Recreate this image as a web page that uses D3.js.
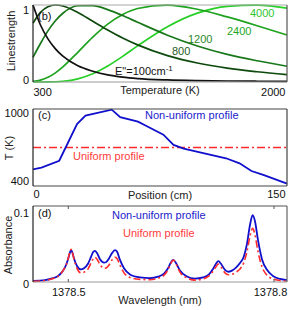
<!DOCTYPE html>
<html>
<head>
<meta charset="utf-8">
<script src="https://cdn.jsdelivr.net/npm/d3@7"></script>
<style>
body { margin: 0; background: #fff; }
svg text { font-family: "Liberation Sans", Arial, sans-serif; font-size: 11px; }
</style>
</head>
<body>
<svg id="fig" width="300" height="310"></svg>
<script>
// ---- panel (b): normalised linestrength vs temperature
var temps = [300, 350, 400, 450, 500, 600, 700, 800, 900, 1000, 1200, 1400, 1600, 1800, 2000];
var s100  = [1, 0.74, 0.56, 0.43, 0.335, 0.21, 0.14, 0.092, 0.063, 0.045, 0.027, 0.018, 0.013, 0.01, 0.008];
var s800  = [0.764, 0.904, 0.978, 1.0, 0.987, 0.903, 0.789, 0.675, 0.571, 0.482, 0.343, 0.247, 0.18, 0.133, 0.095];
var s1200 = [0.321, 0.5, 0.664, 0.796, 0.893, 0.99, 0.992, 0.94, 0.863, 0.776, 0.608, 0.468, 0.359, 0.276, 0.205];
var s2400 = [0.007, 0.025, 0.061, 0.119, 0.196, 0.386, 0.583, 0.752, 0.877, 0.955, 0.999, 0.945, 0.845, 0.731, 0.61];
var s4000 = [0, 0, 0.001, 0.0035, 0.0096, 0.041, 0.107, 0.208, 0.333, 0.469, 0.719, 0.895, 0.983, 0.998, 0.96];
var curveNames = ["4000", "2400", "1200", "800", "100"];
var tempTicks = [300, 2000];
var strengthTicks = [0, 1];

// ---- panel (c): temperature along the path
var position = [0, 5, 15.5, 26, 31, 46.5, 51.5, 62, 67, 77, 83, 89, 114, 122, 129, 136, 144, 150];
var tempProfile = [530, 543, 597, 883, 948, 995, 937, 902, 868, 800, 720, 692, 616, 577, 517, 486, 447, 418];
var uniformT = 700;
var posTicks = [0, 150];
var tTicks = [400, 1000];

// ---- panel (d): absorbance spectra
var wavelength = [1378.4485, 1378.4660, 1378.4777, 1378.4850, 1378.4908, 1378.4966, 1378.4996, 1378.5025,
  1378.5039, 1378.5054, 1378.5083, 1378.5127, 1378.5185, 1378.5229, 1378.5287, 1378.5331, 1378.5360,
  1378.5389, 1378.5419, 1378.5462, 1378.5521, 1378.5550, 1378.5594, 1378.5637, 1378.5681, 1378.5710,
  1378.5754, 1378.5812, 1378.5900, 1378.6046, 1378.6192, 1378.6309, 1378.6396, 1378.6454, 1378.6498,
  1378.6531, 1378.6571, 1378.6629, 1378.6717, 1378.6848, 1378.6964, 1378.7052, 1378.7110, 1378.7154,
  1378.7188, 1378.7227, 1378.7285, 1378.7333, 1378.7387, 1378.7446, 1378.7504, 1378.7562, 1378.7606,
  1378.7650, 1378.7689, 1378.7723, 1378.7767, 1378.7825, 1378.7898, 1378.7985, 1378.8087, 1378.8189];
var absNonUniform = [0.0015, 0.0025, 0.005, 0.008, 0.013, 0.022, 0.030, 0.039,
  0.042, 0.040, 0.031, 0.021, 0.0165, 0.018, 0.024, 0.033, 0.039,
  0.041, 0.038, 0.030, 0.0255, 0.026, 0.031, 0.038, 0.042, 0.040,
  0.029, 0.018, 0.010, 0.006, 0.005, 0.007, 0.011, 0.018, 0.026,
  0.029, 0.025, 0.015, 0.008, 0.0045, 0.006, 0.010, 0.017, 0.024,
  0.0275, 0.024, 0.016, 0.0135, 0.015, 0.019, 0.025, 0.034, 0.050,
  0.075, 0.088, 0.080, 0.055, 0.030, 0.016, 0.008, 0.004, 0.0025];
var absUniform = [0.0008, 0.002, 0.0045, 0.0075, 0.013, 0.022, 0.030, 0.040,
  0.043, 0.041, 0.030, 0.018, 0.012, 0.013, 0.017, 0.025, 0.030,
  0.0325, 0.030, 0.023, 0.018, 0.0185, 0.0225, 0.029, 0.0325, 0.031,
  0.022, 0.012, 0.006, 0.0035, 0.003, 0.005, 0.009, 0.016, 0.025,
  0.029, 0.024, 0.013, 0.006, 0.0025, 0.004, 0.008, 0.014, 0.020,
  0.0235, 0.020, 0.012, 0.0095, 0.010, 0.013, 0.017, 0.026, 0.040,
  0.060, 0.0705, 0.062, 0.040, 0.020, 0.009, 0.004, 0.002, 0.001];
var waveTicks = [1378.5, 1378.8];
var absTicks = [0, 0.1];

var svg = d3.select("#fig");
var blue = "#1010cc", red = "#ff2a2a";

function box(x, y, cols) {
    var x0 = x.range()[0], x1 = x.range()[1], y0 = y.range()[0], y1 = y.range()[1];
    var sides = [[x0, y1, x1, y1, cols[0]], [x0, y0, x1, y0, cols[1]], [x0, y0, x0, y1, cols[2]], [x1, y0, x1, y1, cols[3]]];
    sides.forEach(function (s) {
        svg.append("line")
            .attr("x1", s[0]).attr("y1", s[1]).attr("x2", s[2]).attr("y2", s[3])
            .attr("stroke", s[4]).attr("stroke-width", 1.2);
    });
}

// x tick labels: baseline at baseY, anchor and shift per tick
function xAxis(x, y, ticks, fmt, baseY, anchors, shifts) {
    var g = svg.append("g").attr("transform", "translate(0," + y.range()[0] + ")")
        .call(d3.axisBottom(x).tickValues(ticks).tickFormat(fmt).tickSize(0));
    g.select(".domain").remove();
    g.selectAll("text")
        .attr("y", baseY - y.range()[0]).attr("dy", 0)
        .attr("fill", "#111")
        .attr("text-anchor", function (d, i) { return anchors[i]; })
        .attr("dx", function (d, i) { return shifts[i]; });
    return g;
}

function yAxis(x, y, ticks, fmt, offsets) {
    var g = svg.append("g").attr("transform", "translate(" + x.range()[0] + ",0)")
        .call(d3.axisLeft(y).tickValues(ticks).tickFormat(fmt).tickSize(0).tickPadding(4));
    g.select(".domain").remove();
    g.selectAll("text")
        .attr("fill", "#111")
        .attr("y", function (d, i) { return offsets[i]; });
    return g;
}

function yTitle(txt, xPos, yPos) {
    svg.append("text")
        .attr("transform", "translate(" + xPos + "," + yPos + ") rotate(-90)")
        .attr("text-anchor", "middle").attr("fill", "#222").text(txt);
}

function label(txt, xPos, yPos, col, anchor) {
    return svg.append("text").attr("x", xPos).attr("y", yPos)
        .attr("fill", col).attr("text-anchor", anchor || "start").text(txt);
}

// ================= (b)
var xb = d3.scaleLinear().domain([300, 2000]).range([33, 287]);
var yb = d3.scaleLinear().domain([0, 1]).range([82, 5]);

var series = { "100": s100, "800": s800, "1200": s1200, "2400": s2400, "4000": s4000 };
var colors = { "100": "#111111", "800": "#0e4a0e", "1200": "#18781a", "2400": "#1ea31e", "4000": "#27cf27" };

var lineB = d3.line()
    .x(function (d) { return xb(d.t); })
    .y(function (d) { return yb(d.v); })
    .curve(d3.curveMonotoneX);

curveNames.forEach(function (k) {
    var pts = temps.map(function (t, i) { return { t: t, v: series[k][i] }; });
    svg.append("path").datum(pts)
        .attr("d", lineB).attr("fill", "none")
        .attr("stroke", colors[k]).attr("stroke-width", 1.7);
});

box(xb, yb, ["#aaa", "#999", "#222", "#555"]);
yAxis(xb, yb, strengthTicks, d3.format("d"), [-2.5, 5]);
xAxis(xb, yb, tempTicks, d3.format("d"), 96, ["start", "end"], [0, -2]);
label("Temperature (K)", 160, 94, "#222", "middle");
yTitle("Linestrength", 15, 41);
label("(b)", 38, 20, "#111");

var e100 = label('E"=100cm', 115, 75, "#111");
e100.append("tspan").attr("dy", -4).attr("font-size", "8px").text("-1");
label("800", 172, 55, "#1f5c1f");
label("1200", 188, 43, "#2a8a2a");
label("2400", 227, 35, "#22a622");
label("4000", 250, 17, "#2fc62f");

// ================= (c)
var xc = d3.scaleLinear().domain([0, 150]).range([33, 287]);
var yc = d3.scaleLinear().domain([400, 1000]).range([186, 109]);

svg.append("line")
    .attr("x1", xc(0)).attr("x2", xc(150))
    .attr("y1", yc(uniformT)).attr("y2", yc(uniformT))
    .attr("stroke", red).attr("stroke-width", 1.6)
    .attr("stroke-dasharray", "8,3,2,3");

var lineC = d3.line()
    .x(function (d, i) { return xc(position[i]); })
    .y(function (d) { return yc(d); });
svg.append("path").datum(tempProfile)
    .attr("d", lineC).attr("fill", "none")
    .attr("stroke", blue).attr("stroke-width", 1.8);

box(xc, yc, ["#444", "#444", "#222", "#444"]);
yAxis(xc, yc, tTicks, d3.format("d"), [-5, 4]);
xAxis(xc, yc, posTicks, d3.format("d"), 198, ["start", "end"], [0, -2]);
label("Position (cm)", 160, 199, "#222", "middle");
yTitle("T (K)", 13, 148);
label("(c)", 38, 119, "#111");
label("Non-uniform profile", 145, 119, "#2222cc");
label("Uniform profile", 73, 160, "#ff3b3b");

// ================= (d)
var xd = d3.scaleLinear().domain([1378.4485, 1378.819]).range([33, 287]);
var yd = d3.scaleLinear().domain([0, 0.1]).range([282, 206]);

var lineD = d3.line()
    .x(function (d, i) { return xd(wavelength[i]); })
    .y(function (d) { return yd(d); })
    .curve(d3.curveMonotoneX);

svg.append("path").datum(absNonUniform)
    .attr("d", lineD).attr("fill", "none")
    .attr("stroke", blue).attr("stroke-width", 1.8);
svg.append("path").datum(absUniform)
    .attr("d", lineD).attr("fill", "none")
    .attr("stroke", red).attr("stroke-width", 1.6)
    .attr("stroke-dasharray", "7,3,2,3");

box(xd, yd, ["#555", "#999", "#222", "#666"]);
// small inward ticks
waveTicks.forEach(function (w) {
    [206, 282].forEach(function (yy) {
        svg.append("line").attr("x1", xd(w)).attr("x2", xd(w))
            .attr("y1", yy).attr("y2", yy == 206 ? yy + 3 : yy - 3)
            .attr("stroke", "#555").attr("stroke-width", 1);
    });
});
yAxis(xd, yd, absTicks, function (d) { return d == 0 ? "0" : "0.1"; }, [1.5, 7]);
xAxis(xd, yd, waveTicks, d3.format(".1f"), 296, ["middle", "middle"], [0, -4]);
label("Wavelength (nm)", 160, 304, "#222", "middle");
yTitle("Absorbance", 12, 245);
label("(d)", 38, 217, "#111");
label("Non-uniform profile", 112, 219, "#2222cc");
label("Uniform profile", 123, 237, "#ff3b3b");
</script>
</body>
</html>
